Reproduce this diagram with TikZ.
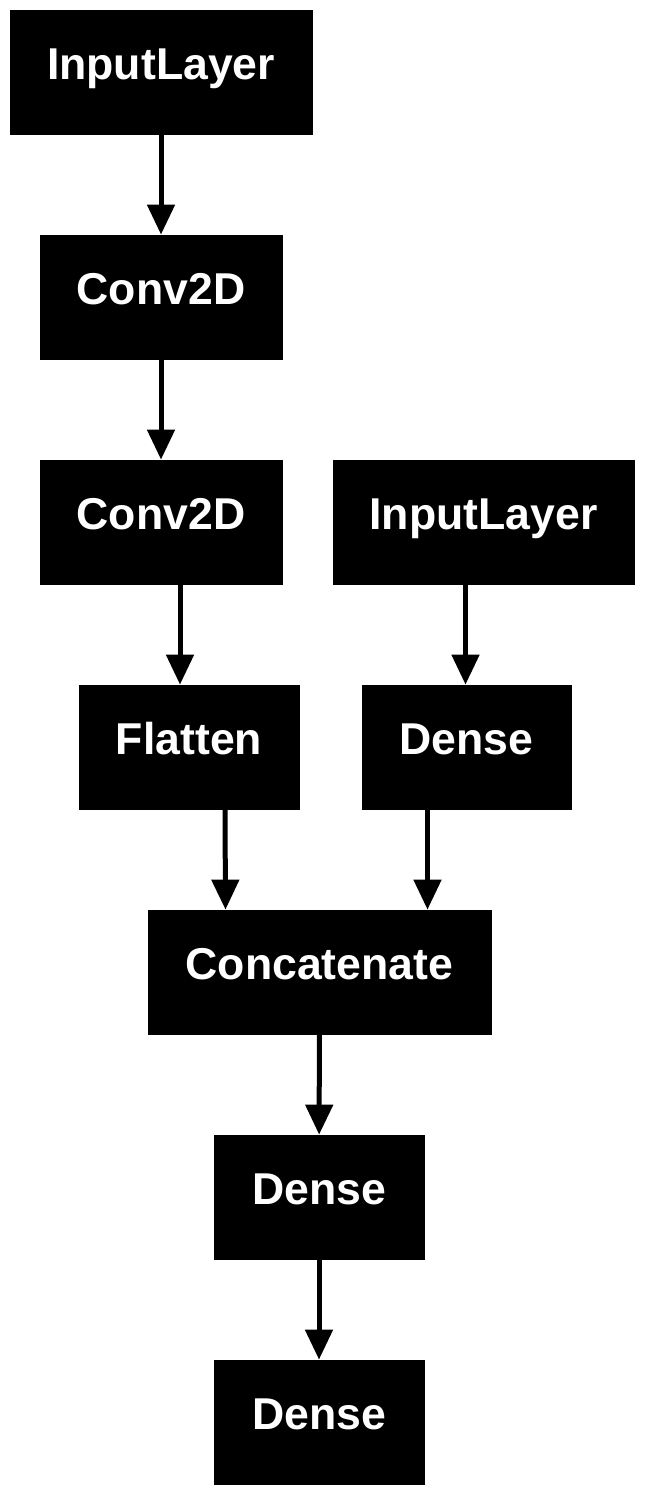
\documentclass[tikz,border=0pt]{standalone}
\usepackage{fontspec}
\usepackage{xcolor}
\usetikzlibrary{arrows.meta}
\newfontfamily\layerfont{Liberation Sans}

\tikzset{
  layer/.style={fill=black, draw=black, text=white, inner sep=0pt,
    font=\layerfont\bfseries\fontsize{22.3pt}{26pt}\selectfont,
    minimum height=62pt, text height=10pt, text depth=2.5pt},
  arr/.style={line width=2.5pt, -{Triangle[length=15pt,width=13.5pt]}}
}

\begin{document}
\begin{tikzpicture}[x=0.5pt,y=-0.5pt]
        \useasboundingbox (0,0) rectangle (644,1497);
        \node[layer, minimum width=151pt](il1) at (161,72) {InputLayer};
        \node[layer, minimum width=121pt](cv1) at (161,297) {Conv2D};
        \node[layer, minimum width=121pt](cv2) at (161,522) {Conv2D};
        \node[layer, minimum width=150.5pt](il2) at (483.5,522) {InputLayer};
        \node[layer, minimum width=110pt](flat) at (189,747) {Flatten};
        \node[layer, minimum width=104.5pt](dn1) at (466.5,747) {Dense};
        \node[layer, minimum width=171.5pt](cat) at (319.5,972) {Concatenate};
        \node[layer, minimum width=105pt](dn2) at (319,1197) {Dense};
        \node[layer, minimum width=105pt](dn3) at (319,1422) {Dense};
        \draw[arr](il1)--(cv1);
        \draw[arr](cv1)--(cv2);
        \draw[arr]([xshift=9.5pt]cv2.south)--([xshift=-4.5pt]flat.north);
        \draw[arr]([xshift=-9pt]il2.south)--([xshift=-0.5pt]dn1.north);
        \draw[arr]([xshift=18pt]flat.south)--([xshift=-47pt]cat.north);
        \draw[arr]([xshift=-19.5pt]dn1.south)--([xshift=54pt]cat.north);
        \draw[arr](cat)--(dn2);
        \draw[arr](dn2)--(dn3);
        \end{tikzpicture}
\end{document}
